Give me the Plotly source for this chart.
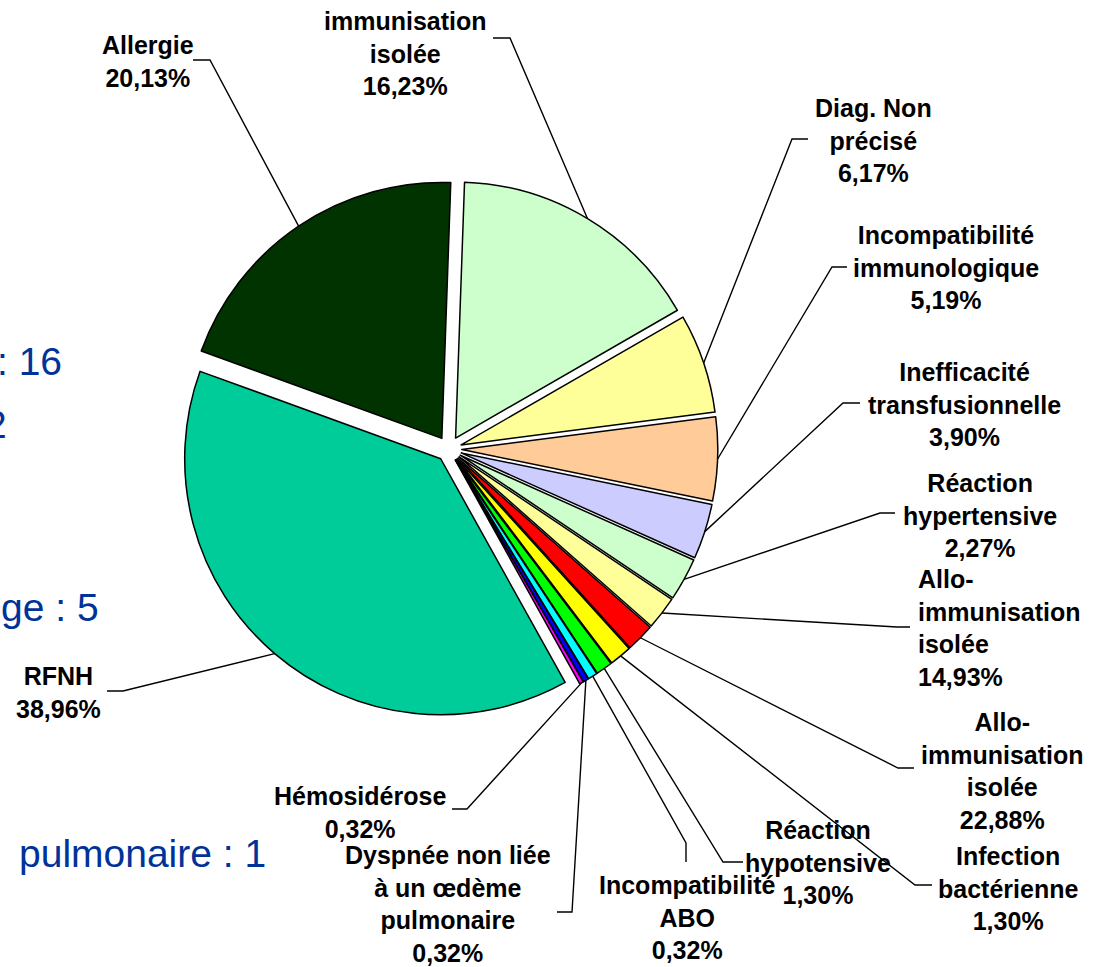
import math
import plotly.graph_objects as go

W, H = 1097, 967

# slices, clockwise from 12 o'clock
slice_share = [16.2, 6.3, 5.3, 3.5, 2.7, 2.1, 1.8, 1.4, 1.05, 0.6, 0.35, 0.25, 38.8, 20.1]
slice_colors = ["#CCFFCC", "#FFFF99", "#FFCC99", "#CCCCFF", "#CCFFCC", "#FFFF99", "#FF0000",
                "#FFFF00", "#00FF00", "#00FFFF", "#0000FF", "#FF00FF", "#00CC99", "#003300"]
categories = ["immunisation<br>isolée", "Diag. Non<br>précisé", "Incompatibilité<br>immunologique",
              "Inefficacité<br>transfusionnelle", "Réaction<br>hypertensive",
              "Allo-<br>immunisation<br>isolée", "Allo-<br>immunisation<br>isolée",
              "Infection<br>bactérienne", "Réaction<br>hypotensive", "Incompatibilité<br>ABO",
              "Dyspnée non liée<br>à un œdème<br>pulmonaire", "Hémosidérose", "RFNH", "Allergie"]
pct_labels = ["16,23%", "6,17%", "5,19%", "3,90%", "2,27%", "14,93%", "22,88%",
              "1,30%", "1,30%", "0,32%", "0,32%", "0,32%", "38,96%", "20,13%"]

# partly hidden text on the left side
side_text = [": 16", "2", "ge : 5", "pulmonaire : 1"]

# ---- layout (pixels) ----
CX, CY, R = 449, 449, 256
PULL = 0.05
ROT = 2

# label block: (x, middle y, anchor)
label_pos = [(405, 54, "center"), (873, 141, "center"), (946, 268, "center"), (964, 404, "center"),
             (980, 515, "center"), (916, 628, "left"), (1002, 771, "center"), (1008, 888, "center"),
             (818, 862, "center"), (687, 917, "center"), (448, 904, "center"), (360, 812, "center"),
             (58, 692, "center"), (148, 62, "center")]
# leader line: start point and elbow point
leader_pts = [((493, 38), (510, 38)), ((808, 139), (792, 139)), ((847, 267), (832, 267)),
              ((860, 403), (843, 403)), ((895, 513), (880, 513)), ((910, 627), (897, 627)),
              ((914, 768), (898, 768)), ((932, 885), (915, 885)), ((743, 862), (723, 862)),
              ((686, 862), (686, 843)), ((557, 912), (572, 912)), ((452, 809), (467, 809)),
              ((107, 691), (123, 691)), ((193, 60), (210, 60))]
side_pos = [(64, 361, "right"), (9, 425, "right"), (101, 607, "right"), (268, 853, "right")]


def px(x):
    return x / W


def py(y):
    return 1 - y / H


half = R * (1 + PULL)
fig = go.Figure(go.Pie(
    values=slice_share,
    marker=dict(colors=slice_colors, line=dict(color="black", width=1.5)),
    pull=[PULL] * len(slice_share),
    sort=False, direction="clockwise", rotation=ROT,
    textinfo="none", hoverinfo="skip", showlegend=False,
    domain=dict(x=[px(CX - half), px(CX + half)], y=[py(CY + half), py(CY - half)]),
))

# leader lines end on the rim of each (pulled) slice at its mid angle
total = sum(slice_share)
cum = 0
shapes = []
for i, v in enumerate(slice_share):
    mid = math.radians(ROT + (cum + v / 2) / total * 360)
    cum += v
    ax = CX + R * (1 + PULL) * math.sin(mid)
    ay = CY - R * (1 + PULL) * math.cos(mid)
    (x0, y0), (x1, y1) = leader_pts[i]
    shapes.append(dict(type="path", xref="paper", yref="paper",
                       path=f"M {px(x0)},{py(y0)} L {px(x1)},{py(y1)} L {px(ax)},{py(ay)}",
                       line=dict(color="black", width=1.4)))

annotations = []
for i, (x, y, anc) in enumerate(label_pos):
    annotations.append(dict(x=px(x), y=py(y), xref="paper", yref="paper",
                            text=categories[i] + "<br>" + pct_labels[i], showarrow=False,
                            xanchor=anc, yanchor="middle", align=anc,
                            font=dict(family="Arial, Liberation Sans", size=25, color="black",
                                      weight="bold")))
for t, (x, y, anc) in zip(side_text, side_pos):
    annotations.append(dict(x=px(x), y=py(y), xref="paper", yref="paper", text=t,
                            showarrow=False, xanchor=anc, yanchor="middle",
                            font=dict(family="Arial, Liberation Sans", size=39, color="#003399")))

fig.update_layout(width=W, height=H, margin=dict(l=0, r=0, t=0, b=0),
                  paper_bgcolor="white", plot_bgcolor="white",
                  shapes=shapes, annotations=annotations)

# drop the default page margin so the figure sits at the window's corner
fig.write_html("out.html", config={"displayModeBar": False},
               post_script="document.body.style.margin = '0px';")
